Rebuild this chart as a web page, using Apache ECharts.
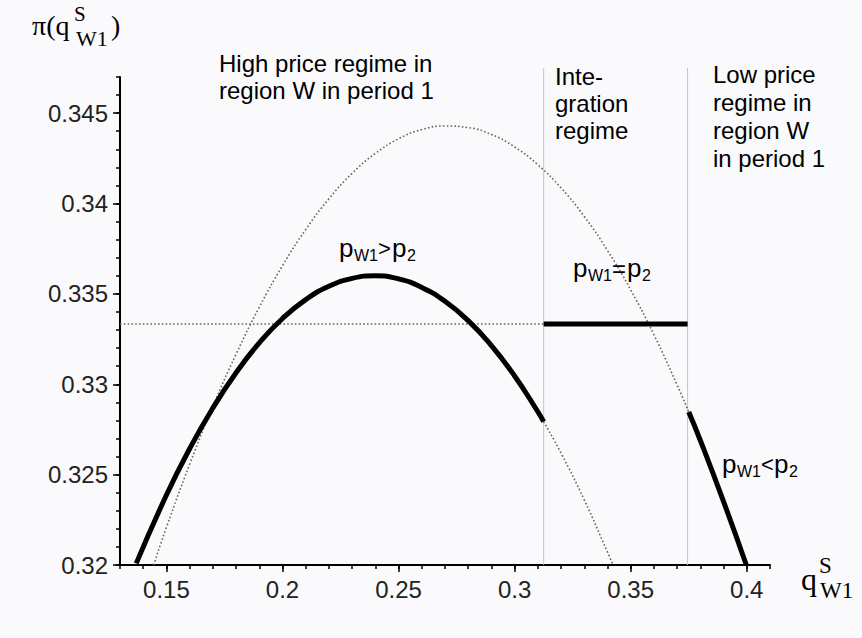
<!DOCTYPE html>
<html>
<head>
<meta charset="utf-8">
<script src="https://cdn.jsdelivr.net/npm/echarts@6/dist/echarts.min.js"></script>
<style>
html,body{margin:0;padding:0;background:#fafafc;}
#chart{width:862px;height:638px;}
</style>
</head>
<body>
<div id="chart"></div>
<script>
// ---- data ----
const xTicks = [0.15, 0.2, 0.25, 0.3, 0.35, 0.4];
const yTicks = [0.32, 0.325, 0.33, 0.335, 0.34, 0.345];

// high price regime profit (bold part)
const highBoldX = [0.137, 0.15, 0.16, 0.17, 0.18, 0.19, 0.20, 0.21, 0.22, 0.23, 0.24, 0.25, 0.26, 0.27, 0.28, 0.29, 0.30, 0.31, 0.3125];
const highBoldY = [0.32009, 0.32387, 0.32643, 0.32869, 0.33064, 0.33229, 0.33364, 0.33468, 0.33542, 0.33586, 0.33600, 0.33583, 0.33536, 0.33459, 0.33352, 0.33214, 0.33046, 0.32848, 0.32793];
// its dotted continuation
const highDotX = [0.3125, 0.32, 0.33, 0.34, 0.3424];
const highDotY = [0.32793, 0.32619, 0.32360, 0.32071, 0.32000];

// low price regime profit (dotted part)
const lowDotX = [0.1445, 0.15, 0.16, 0.17, 0.18, 0.19, 0.20, 0.21, 0.22, 0.23, 0.24, 0.25, 0.26, 0.27, 0.28, 0.29, 0.30, 0.31, 0.32, 0.33, 0.34, 0.35, 0.36, 0.37, 0.375];
const lowDotY = [0.32000, 0.32208, 0.32557, 0.32877, 0.33166, 0.33426, 0.33656, 0.33856, 0.34026, 0.34167, 0.34277, 0.34358, 0.34409, 0.34429, 0.34420, 0.34382, 0.34313, 0.34214, 0.34086, 0.33928, 0.33740, 0.33522, 0.33274, 0.32996, 0.32846];
// bold part
const lowBoldX = [0.375, 0.38, 0.39, 0.3998];
const lowBoldY = [0.32846, 0.32689, 0.32351, 0.32000];

// integration regime
const regimeBounds = [0.3125, 0.3745];
const integrationProfit = 0.33333;
const xStart = 0.13;
const yBottom = 0.32;
const yLineTop = 0.3475;

// ---- build ----
const zip = (xs, ys) => xs.map((x, i) => [x, ys[i]]);
const BLACK = '#000';
const DOT = '#666';
const sans = '"Liberation Sans", Arial, sans-serif';
const serif = '"Liberation Serif", "Times New Roman", serif';

function boldLine(data) {
  return { type: 'line', data, showSymbol: false, smooth: true, z: 5,
    lineStyle: { color: BLACK, width: 5, cap: 'butt' } };
}
function dotLine(data) {
  return { type: 'line', data, showSymbol: false, smooth: true, z: 4,
    lineStyle: { color: DOT, width: 1.6, type: [1.6, 2.2] } };
}
function vLine(x) {
  return { type: 'line', data: [[x, yBottom], [x, yLineTop]], showSymbol: false, clip: false, z: 1,
    lineStyle: { color: '#c4c4c4', width: 1 } };
}

function txt(x, baseline, text, size, family, color) {
  const k = family === serif ? 0.34 : 0.345;
  return { type: 'text', x: x, y: baseline - k * size, z: 100,
    style: { text, fontSize: size, fontFamily: family, fill: color || '#000', align: 'left', verticalAlign: 'middle' } };
}
function block(x, top, text, size, lh) {
  return { type: 'text', x: x, y: top, z: 100,
    style: { text, fontSize: size, fontFamily: sans, fill: '#000', align: 'left', verticalAlign: 'top', lineHeight: lh } };
}

const graphics = [
  // y-axis title
  txt(32, 35, 'π(q', 28, serif),
  txt(74, 21, 'S', 21, serif),
  txt(76, 46, 'W1', 22, serif),
  txt(111, 35, ')', 28, serif),
  // x-axis title
  txt(801, 590, 'q', 32, serif),
  txt(819, 573, 'S', 23, serif),
  txt(820, 598, 'W1', 23, serif),
  // regime headings
  block(219, 50, 'High price regime in\nregion W in period 1', 24, 27),
  block(555, 63, 'Inte-\ngration\nregime', 24, 27),
  block(713, 60.5, 'Low price\nregime in\nregion W\nin period 1', 24, 28),
  // p labels
  txt(339, 257, 'p', 26, sans), txt(354, 261, 'W1', 16, sans), txt(378, 256, '>', 22, sans), txt(392, 257, 'p', 26, sans), txt(407, 261, '2', 16, sans),
  txt(573, 277, 'p', 26, sans), txt(588, 281, 'W1', 16, sans), txt(612, 277, '=', 24, sans), txt(627, 277, 'p', 26, sans), txt(642, 281, '2', 16, sans),
  txt(722, 473, 'p', 26, sans), txt(737, 477, 'W1', 16, sans), txt(761, 472, '<', 22, sans), txt(774, 473, 'p', 26, sans), txt(789, 477, '2', 16, sans)
];

const axisLabelStyle = { color: '#222', fontSize: 24, fontFamily: sans };

const option = {
  backgroundColor: '#fafafc',
  animation: false,
  grid: { left: 120, right: 92, top: 77, bottom: 73, containLabel: false },
  xAxis: [
    { type: 'value', min: 0.13, max: 0.41, interval: 0.01, position: 'bottom',
      axisLine: { lineStyle: { color: BLACK, width: 2 } },
      axisTick: { length: 4, lineStyle: { color: BLACK, width: 1.5 } },
      axisLabel: { show: false }, splitLine: { show: false } },
    { type: 'value', min: 0.13, max: 0.41, position: 'bottom',
      axisLine: { show: false },
      axisTick: { length: 7, customValues: xTicks, lineStyle: { color: BLACK, width: 1.5 } },
      axisLabel: Object.assign({ customValues: xTicks, margin: 12 }, axisLabelStyle),
      splitLine: { show: false } }
  ],
  yAxis: [
    { type: 'value', min: 0.32, max: 0.347, interval: 0.001, position: 'left',
      axisLine: { lineStyle: { color: BLACK, width: 2 } },
      axisTick: { length: 4, lineStyle: { color: BLACK, width: 1.5 } },
      axisLabel: { show: false }, splitLine: { show: false } },
    { type: 'value', min: 0.32, max: 0.347, position: 'left',
      axisLine: { show: false },
      axisTick: { length: 7, customValues: yTicks, lineStyle: { color: BLACK, width: 1.5 } },
      axisLabel: Object.assign({ customValues: yTicks, margin: 12 }, axisLabelStyle),
      splitLine: { show: false } }
  ],
  series: [
    vLine(regimeBounds[0]),
    vLine(regimeBounds[1]),
    Object.assign(dotLine([[xStart, integrationProfit], [regimeBounds[0], integrationProfit]]), { smooth: false }),
    Object.assign(boldLine([[regimeBounds[0], integrationProfit], [regimeBounds[1], integrationProfit]]), { smooth: false }),
    dotLine(zip(lowDotX, lowDotY)),
    dotLine(zip(highDotX, highDotY)),
    boldLine(zip(highBoldX, highBoldY)),
    boldLine(zip(lowBoldX, lowBoldY))
  ],
  graphic: graphics
};

const chart = echarts.init(document.getElementById('chart'), null, { renderer: 'svg', width: 862, height: 638 });
chart.setOption(option);
</script>
</body>
</html>
